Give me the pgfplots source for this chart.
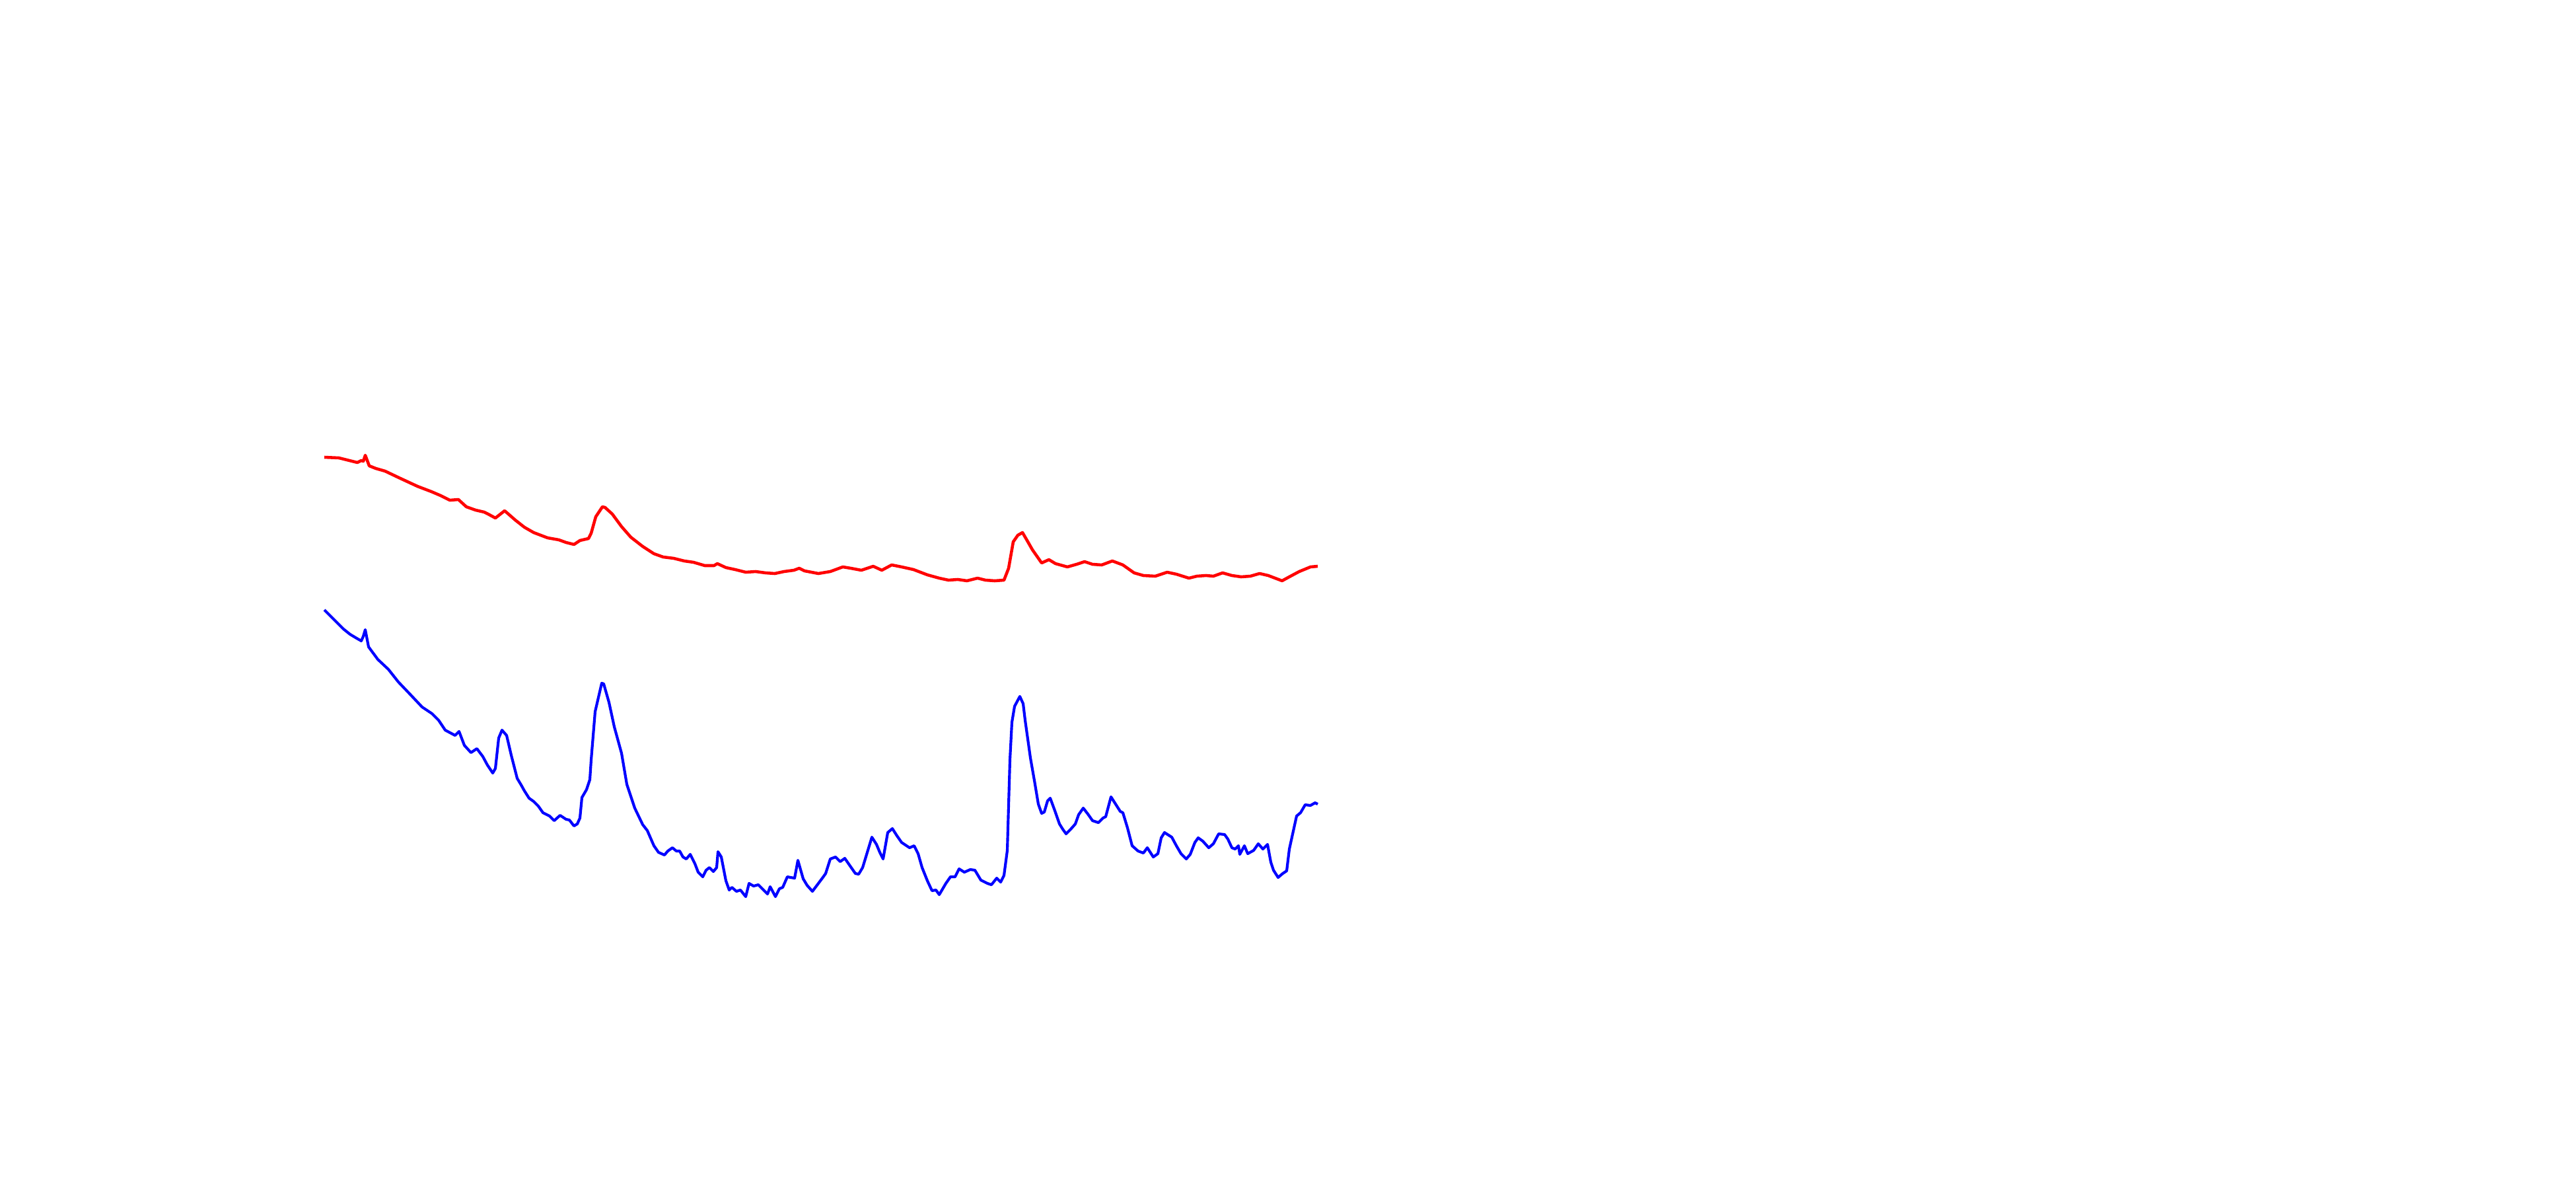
\documentclass[border=0pt]{standalone}
\usepackage{pgfplots}
\pgfplotsset{compat=1.18}
\begin{document}
\begin{tikzpicture}
\path[use as bounding box] (0,0) rectangle (13in,6in);
\begin{axis}[
    at={(0,0)}, anchor=south west,
    scale only axis, width=13in, height=6in,
    xmin=0, xmax=3900, ymin=0, ymax=1800,
    y dir=reverse,
    hide axis,
    line join=round,
    ]
% red spectrum
\addplot[red, line width=1.1pt, mark=none] coordinates {
(491,692) (513,693) (541,700) (547,697) (550,698) (553,689) (559,705) (569,709)
(583,713) (604,723) (632,736) (653,744) (667,750) (681,757) (694,756) (706,767)
(720,772) (733,775) (739,778) (750,784) (764,773) (780,787) (794,798) (808,806)
(829,814) (846,817) (857,821) (869,824) (878,818) (891,815) (895,807) (902,782)
(912,767) (916,768) (927,778) (941,797) (955,813) (973,827) (990,838) (1004,843)
(1020,845) (1036,849) (1050,851) (1067,856) (1081,856) (1086,853) (1099,859) (1113,862)
(1129,866) (1144,865) (1159,867) (1173,868) (1187,865) (1202,863) (1210,860) (1218,864)
(1239,868) (1257,865) (1276,858) (1288,860) (1304,863) (1322,857) (1335,863) (1350,855)
(1365,858) (1383,862) (1404,870) (1422,875) (1436,878) (1450,877) (1464,879) (1480,875)
(1492,878) (1506,879) (1520,878) (1527,860) (1534,820) (1541,810) (1548,806) (1555,818)
(1563,832) (1577,852) (1588,847) (1598,853) (1616,858) (1630,854) (1642,850) (1654,854)
(1668,855) (1684,849) (1700,855) (1717,867) (1731,871) (1749,872) (1767,866) (1781,869)
(1800,875) (1812,872) (1826,871) (1837,872) (1851,867) (1865,871) (1879,873) (1893,872)
(1907,868) (1920,871) (1941,879) (1952,873) (1967,865) (1984,858) (1995,857)
};
% blue spectrum
\addplot[blue, line width=1.0pt, mark=none] coordinates {
(491,923) (500,932) (510,942) (520,952) (530,960) (540,966) (547,970) (550,963)
(553,953) (558,979) (572,998) (588,1013) (603,1032) (623,1053) (639,1070) (654,1080)
(664,1090) (674,1105) (689,1113) (695,1107) (703,1128) (713,1139) (722,1133) (731,1145)
(738,1158) (746,1170) (750,1163) (755,1117) (760,1105) (767,1113) (774,1143) (783,1178)
(789,1188) (794,1197) (801,1208) (808,1213) (815,1220) (822,1230) (832,1235) (839,1242)
(848,1234) (857,1240) (862,1241) (869,1250) (874,1247) (878,1238) (881,1207) (888,1195)
(893,1180) (895,1150) (901,1077) (911,1034) (914,1035) (922,1063) (930,1100) (941,1140)
(949,1187) (961,1223) (973,1248) (980,1257) (990,1280) (997,1290) (1006,1294) (1011,1288)
(1018,1283) (1024,1288) (1029,1288) (1034,1297) (1039,1300) (1045,1293) (1052,1307) (1057,1320)
(1064,1327) (1069,1317) (1074,1313) (1080,1319) (1085,1313) (1087,1289) (1092,1297) (1099,1333)
(1104,1347) (1108,1343) (1115,1349) (1121,1347) (1129,1357) (1134,1337) (1141,1341) (1148,1339)
(1159,1350) (1162,1353) (1166,1342) (1174,1357) (1180,1345) (1185,1343) (1192,1327) (1197,1328)
(1203,1329) (1208,1302) (1216,1330) (1222,1340) (1230,1349) (1239,1337) (1245,1329) (1250,1322)
(1257,1300) (1265,1297) (1272,1304) (1279,1299) (1288,1312) (1295,1322) (1300,1323) (1306,1313)
(1313,1290) (1320,1267) (1327,1278) (1332,1290) (1337,1300) (1344,1260) (1351,1254) (1358,1265)
(1365,1275) (1377,1283) (1384,1280) (1390,1292) (1396,1313) (1404,1333) (1411,1348) (1417,1347)
(1422,1354) (1432,1337) (1439,1327) (1446,1327) (1452,1315) (1460,1320) (1469,1316) (1476,1317)
(1485,1332) (1495,1337) (1501,1339) (1509,1329) (1515,1335) (1520,1325) (1525,1287) (1529,1150)
(1532,1093) (1536,1069) (1544,1054) (1549,1065) (1552,1090) (1560,1147) (1567,1187) (1572,1217)
(1577,1231) (1581,1229) (1586,1212) (1590,1208) (1597,1227) (1604,1247) (1609,1255) (1614,1262)
(1621,1255) (1628,1247) (1633,1233) (1640,1223) (1647,1232) (1654,1242) (1663,1245) (1670,1238)
(1674,1236) (1682,1206) (1689,1217) (1696,1228) (1700,1230) (1707,1253) (1714,1280) (1723,1288)
(1731,1291) (1737,1283) (1746,1297) (1753,1292) (1758,1268) (1763,1260) (1774,1267) (1781,1280)
(1788,1292) (1796,1300) (1802,1293) (1809,1275) (1814,1268) (1821,1273) (1830,1283) (1837,1277)
(1845,1262) (1854,1263) (1859,1270) (1865,1283) (1870,1285) (1875,1280) (1877,1293) (1884,1280)
(1889,1292) (1898,1287) (1905,1277) (1912,1285) (1919,1278) (1924,1305) (1928,1317) (1935,1328)
(1942,1322) (1948,1318) (1952,1285) (1963,1235) (1969,1230) (1976,1218) (1984,1219) (1991,1215)
(1995,1217)
};
\end{axis}
\end{tikzpicture}
\end{document}
